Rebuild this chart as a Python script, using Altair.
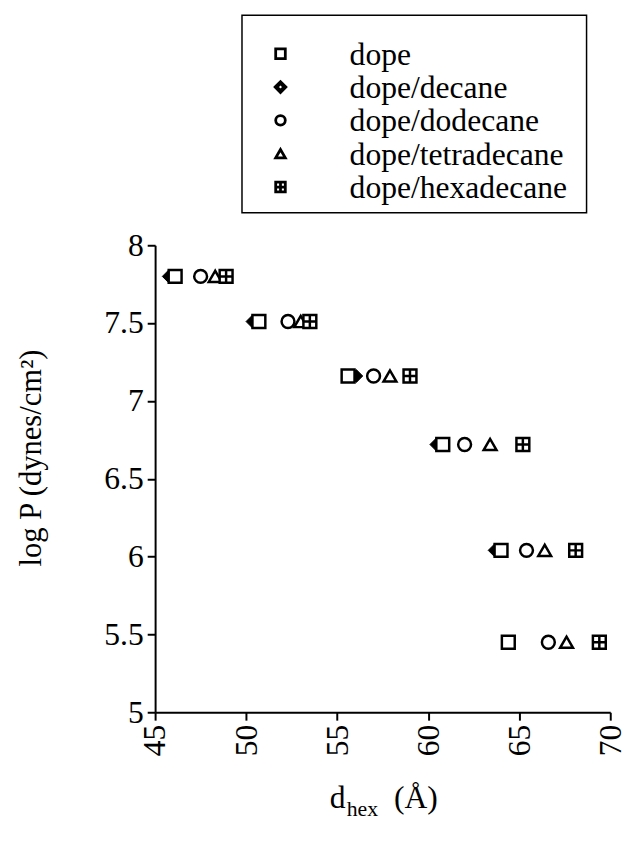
import altair as alt
import pandas as pd

# ---- data ----
log_p = [7.80, 7.51, 7.16, 6.72, 6.04, 5.45]
series_names = ["dope", "dope/decane", "dope/dodecane", "dope/tetradecane", "dope/hexadecane"]
d_dope = [46.1, 50.7, 55.6, 60.8, 64.0, 64.4]
d_decane = [45.75, 50.35, 56.05, 60.45, 63.65, None]
d_dodecane = [47.5, 52.3, 57.0, 62.0, 65.4, 66.6]
d_tetradecane = [48.3, 53.0, 57.9, 63.4, 66.4, 67.6]
d_hexadecane = [48.9, 53.5, 59.0, 65.2, 68.1, 69.4]
x_ticks = [45, 50, 55, 60, 65, 70]
y_ticks = [5, 5.5, 6, 6.5, 7, 7.5, 8]

rows_decane = [{"series": "dope/decane", "dhex": xv, "logP": yv}
               for xv, yv in zip(d_decane, log_p) if xv is not None]
rows_other = []
for name, vals in [("dope", d_dope), ("dope/dodecane", d_dodecane),
                   ("dope/tetradecane", d_tetradecane), ("dope/hexadecane", d_hexadecane)]:
    for xv, yv in zip(vals, log_p):
        rows_other.append({"series": name, "dhex": xv, "logP": yv})
df_decane = pd.DataFrame(rows_decane)
df_other = pd.DataFrame(rows_other)
df_legend = pd.DataFrame({"series": series_names})

HEX_PATH = "M-1,-1H1V1H-1Z M0,-1V1 M-1,0H1"
SHAPES = ["square", "diamond", "circle", "triangle-up", HEX_PATH]
FONT = "Liberation Serif"
W, H = 461, 473

shape_scale = alt.Scale(domain=series_names, range=SHAPES)

x_axis = alt.Axis(values=x_ticks, labelAngle=270, labelAlign="right",
                  labelBaseline="middle", labelFont=FONT, labelFontSize=32,
                  labelColor="black", tickSize=8, tickWidth=2, tickColor="black",
                  domain=True, domainWidth=2, domainColor="black", grid=False, title=None,
                  labelPadding=4)
x_enc = alt.X("dhex:Q", scale=alt.Scale(domain=[45, 70], nice=False, zero=False), axis=x_axis)
y_scale = alt.Scale(domain=[5, 8], nice=False, zero=False)
y_axis = alt.Axis(orient="left", values=y_ticks, format="~g", labelFont=FONT,
                  labelFontSize=32, labelColor="black", tickSize=8, tickWidth=2,
                  tickColor="black", domain=True, domainWidth=2, domainColor="black",
                  grid=False, title="log P  (dynes/cm²)", titleFont=FONT, titleFontSize=31,
                  titleFontWeight="normal", titleColor="black",
                  titleAngle=270, titleBaseline="middle", titleAlign="center",
                  titleX=-125, titleY=215, labelPadding=4)
y_enc = alt.Y("logP:Q", scale=y_scale, axis=y_axis)

decane_layer = alt.Chart(df_decane).mark_point(
    shape="diamond", filled=True, fill="black", stroke="black", strokeWidth=1,
    size=170, opacity=1
).encode(x=x_enc, y=y_enc)

main_layer = alt.Chart(df_other).mark_point(
    filled=True, fill="white", stroke="black", strokeWidth=2.5, size=170, opacity=1
).encode(
    x=x_enc, y=y_enc,
    shape=alt.Shape("series:N", scale=shape_scale, legend=None),
)

# ---- hand-built legend (box, symbols, labels) ----
leg_y = alt.Y("series:N", scale=alt.Scale(type="point", domain=series_names,
                                          range=[-194, -59], padding=0), axis=None)
leg_box = alt.Chart(pd.DataFrame({"k": [0]})).mark_rect(
    fill="white", fillOpacity=0, stroke="black", strokeWidth=1.5
).encode(x=alt.value(88), x2=alt.value(437), y=alt.value(-233), y2=alt.value(-33))
leg_sym = alt.Chart(df_legend).transform_filter(
    alt.datum.series != "dope/decane"
).mark_point(
    filled=True, fill="white", stroke="black", strokeWidth=2.8, size=95, opacity=1
).encode(x=alt.value(127), y=leg_y,
         shape=alt.Shape("series:N", scale=shape_scale, legend=None))
leg_sym_dec = alt.Chart(df_legend).transform_filter(
    alt.datum.series == "dope/decane"
).mark_point(
    filled=True, fill="white", stroke="black", strokeWidth=4.2, size=80, opacity=1
).encode(x=alt.value(127), y=leg_y,
         shape=alt.Shape("series:N", scale=shape_scale, legend=None))
leg_txt = alt.Chart(df_legend).mark_text(
    font=FONT, fontSize=32, align="left", baseline="middle", color="black", dy=1
).encode(x=alt.value(197), y=leg_y, text="series:N")

# ---- x-axis title with subscript ----
t_d = alt.Chart(pd.DataFrame({"t": ["d"]})).mark_text(
    font=FONT, fontSize=32, align="left", baseline="alphabetic", color="black"
).encode(text="t:N", x=alt.value(177), y=alt.value(H + 97))
t_hex = alt.Chart(pd.DataFrame({"t": ["hex"]})).mark_text(
    font=FONT, fontSize=22, align="left", baseline="alphabetic", color="black"
).encode(text="t:N", x=alt.value(194), y=alt.value(H + 105))
t_unit = alt.Chart(pd.DataFrame({"t": ["(Å)"]})).mark_text(
    font=FONT, fontSize=32, align="left", baseline="alphabetic", color="black"
).encode(text="t:N", x=alt.value(242), y=alt.value(H + 97))

plot = alt.layer(decane_layer, main_layer, t_d, t_hex, t_unit)
legend = alt.layer(leg_box, leg_sym, leg_sym_dec, leg_txt)

chart = alt.layer(plot, legend).resolve_scale(y="independent").properties(
    width=W, height=H,
    autosize=alt.AutoSizeParams(type="none"),
    padding={"left": 149, "top": 235, "right": 20, "bottom": 118},
).configure_view(stroke=None)

chart.save("out.html", embed_options={"renderer": "svg", "actions": False})
